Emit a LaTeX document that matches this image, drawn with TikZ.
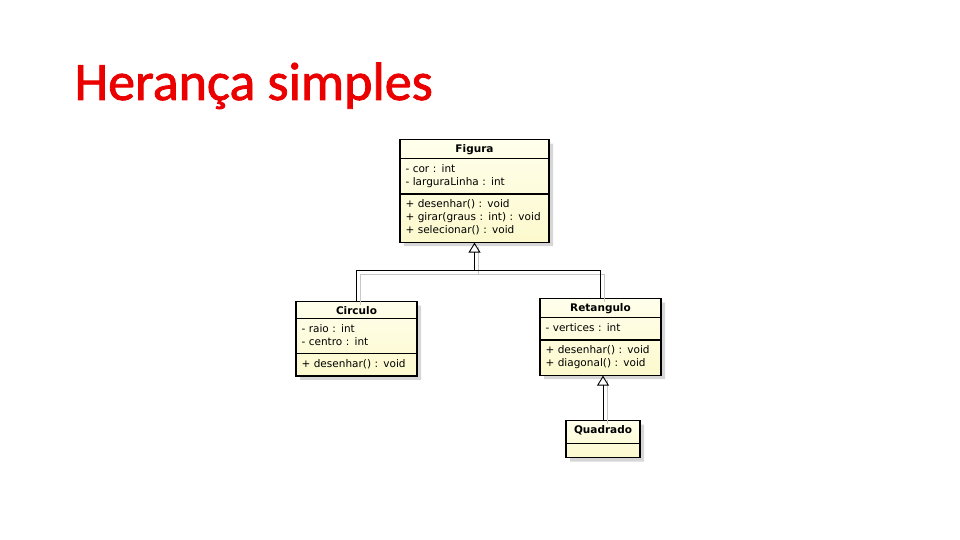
\documentclass[tikz,border=0pt]{standalone}
\usepackage{fontspec}
\setmainfont{DejaVu Sans}
\newfontfamily\titlefont{Carlito}[FakeBold=1.5]
\usetikzlibrary{shapes.multipart,shadows,arrows.meta}

\definecolor{titlered}{RGB}{235,0,0}
\definecolor{classtop}{RGB}{255,255,236}
\definecolor{classbottom}{RGB}{252,249,205}

\newcommand{\classname}[1]{\hbox to \hsize{\hss\textbf{#1}\hss}}

\tikzset{
  umlclass/.style={rectangle split, rectangle split parts=3, draw=black, line width=1.1pt,
    text width=#1, inner xsep=5.5pt, inner ysep=4pt, anchor=north,
    font=\fontsize{10.5}{13}\selectfont, top color=classtop, bottom color=classbottom,
    drop shadow={shadow xshift=4pt, shadow yshift=-4pt, fill=black!16, opacity=1}},
  inherit/.style={line width=0.9pt, -{Triangle[open, width=12pt, length=10pt, line width=0.9pt]}},
  inheritshadow/.style={black!22, line width=0.9pt, transform canvas={shift={(4pt,-4pt)}}}
}

\begin{document}
\begin{tikzpicture}[x=1pt,y=-1pt]
  \useasboundingbox (0,0) rectangle (960,540);
  \node[anchor=base west, text=titlered, font=\titlefont\fontsize{54}{54}\selectfont] (title) at (71,100) {Herança simples};

  % classes
  \node[umlclass=138pt] (figura) at (474.5,139) {\classname{Figura}
    \nodepart{second}\strut- cor : int\\\strut- larguraLinha : int
    \nodepart{third}\strut+ desenhar() : void\\\strut+ girar(graus : int) : void\\\strut+ selecionar() : void};
  \node[umlclass=110pt] (circulo) at (356.5,301) {\classname{Circulo}
    \nodepart{second}\strut- raio : int\\\strut- centro : int
    \nodepart{third}\strut+ desenhar() : void};
  \node[umlclass=110pt] (retangulo) at (600.5,298) {\classname{Retangulo}
    \nodepart{second}\strut- vertices : int
    \nodepart{third}\strut+ desenhar() : void\\\strut+ diagonal() : void};
  \node[umlclass=63pt, rectangle split parts=2] (quadrado) at (603,420) {\classname{Quadrado}\rule[-6pt]{0pt}{6pt}
    \nodepart{second}\rule{0pt}{5pt}};

  % generalizations
  \coordinate (bus) at (474.5,270);
  \draw[inheritshadow] (circulo.north) |- (bus) -- (figura.south);
  \draw[inheritshadow] (retangulo.north) |- (bus);
  \draw[inheritshadow] (quadrado.north) -- (retangulo.south -| quadrado.north);
  \draw[inherit] (circulo.north) |- (bus) -- (figura.south);
  \draw[line width=0.9pt] (retangulo.north) |- (bus);
  \draw[inherit] (quadrado.north) -- (retangulo.south -| quadrado.north);
\end{tikzpicture}
\end{document}
